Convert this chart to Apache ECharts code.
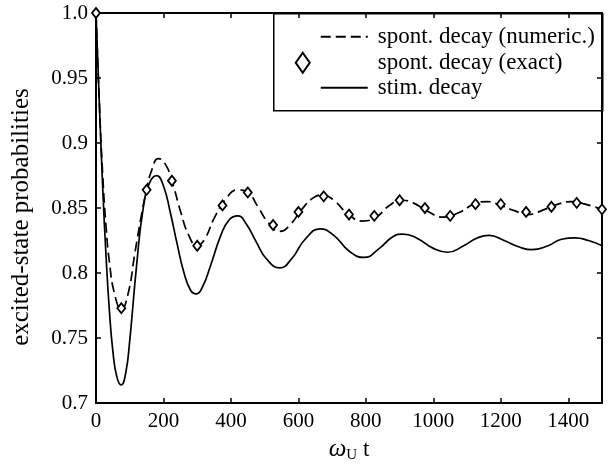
<!DOCTYPE html>
<html>
<head>
<meta charset="utf-8">
<script src="https://cdn.jsdelivr.net/npm/echarts@6/dist/echarts.min.js"></script>
<style>
html,body{margin:0;padding:0;background:#fff;}
#chart{width:611px;height:468px;}
</style>
</head>
<body>
<div id="chart"></div>
<script>
// ---- data ----
const seriesNames = ['spont. decay (numeric.)', 'spont. decay (exact)', 'stim. decay'];

// spontaneous decay, numerical solution (dashed): [omega_U t, probability]
const spontNumeric = [
  [0,1.0],[10,0.93],[20,0.875],[30,0.835],[40,0.808],[55,0.784],[75,0.772],[95,0.784],
  [115,0.815],[135,0.845],[150,0.864],[165,0.879],[185,0.888],[205,0.884],[225,0.871],
  [250,0.848],[275,0.829],[300,0.821],[322,0.826],[350,0.842],[385,0.857],[420,0.864],
  [450,0.862],[480,0.851],[510,0.839],[545,0.832],[575,0.837],[610,0.849],[645,0.858],
  [673,0.860],[705,0.856],[745,0.846],[790,0.840],[830,0.843],[870,0.852],[905,0.856],
  [940,0.854],[980,0.848],[1030,0.843],[1080,0.847],[1120,0.853],[1160,0.855],[1200,0.852],
  [1240,0.848],[1280,0.845],[1330,0.849],[1370,0.853],[1410,0.855],[1450,0.853],[1500,0.849]
];

// spontaneous decay, exact solution (diamonds)
const spontExactT = [0,75,150,225,300,375,450,525,600,675,750,825,900,975,1050,1125,1200,1275,1350,1425,1500];
const spontExactP = [1.0,0.773,0.864,0.871,0.821,0.852,0.862,0.837,0.847,0.859,0.845,0.844,0.856,0.850,0.844,0.853,0.853,0.847,0.851,0.854,0.849];

// stimulated decay (solid)
const stimDecay = [
  [0,1.0],[10,0.93],[20,0.865],[30,0.812],[40,0.77],[50,0.74],[62,0.72],[75,0.714],
  [88,0.723],[100,0.748],[120,0.805],[140,0.850],[160,0.870],[180,0.875],[200,0.867],
  [220,0.847],[240,0.823],[260,0.801],[280,0.787],[297,0.784],[315,0.789],[340,0.806],
  [370,0.829],[395,0.841],[420,0.844],[445,0.838],[475,0.824],[505,0.811],[545,0.804],
  [580,0.811],[620,0.826],[665,0.834],[705,0.829],[750,0.817],[795,0.812],[840,0.819],
  [880,0.828],[910,0.830],[950,0.827],[1000,0.819],[1042,0.816],[1090,0.821],[1130,0.827],
  [1165,0.829],[1210,0.825],[1255,0.820],[1292,0.818],[1340,0.821],[1380,0.826],[1420,0.827],
  [1460,0.825],[1500,0.821]
];

const xTicks = [0,200,400,600,800,1000,1200,1400];
const yTickLabels = {1:'1.0',0.95:'0.95',0.9:'0.9',0.85:'0.85',0.8:'0.8',0.75:'0.75',0.7:'0.7'};

// ---- chart ----
const FONT = 'Liberation Serif';
const chart = echarts.init(document.getElementById('chart'), null, {renderer:'canvas'});

const axisLineStyle = {color:'#000', width:2};
const tickCfg = {show:true, inside:true, length:5, lineStyle:{color:'#000', width:1.5}};

const exactData = spontExactT.map((t,i)=>[t, spontExactP[i]]);

const option = {
  backgroundColor:'#fff',
  animation:false,
  textStyle:{fontFamily:FONT},
  grid:{left:96, right:9, top:13, bottom:54, containLabel:false},
  xAxis:[{
    type:'value', min:0, max:1500, interval:200, position:'bottom',
    axisLine:{show:true, onZero:false, lineStyle:axisLineStyle},
    axisTick:tickCfg,
    splitLine:{show:false},
    axisLabel:{color:'#000', fontFamily:FONT, fontSize:21, margin:8, showMaxLabel:false,
      formatter:v => xTicks.indexOf(v) >= 0 ? String(v) : ''},
    name:'{w|ω}{s|U}{t| t}', nameLocation:'middle', nameGap:32,
    nameTextStyle:{rich:{
      w:{fontFamily:FONT, fontSize:25, fontStyle:'italic', color:'#000'},
      s:{fontFamily:FONT, fontSize:15, color:'#000', padding:[12,0,0,0]},
      t:{fontFamily:FONT, fontSize:23, color:'#000'}
    }}
  },{
    type:'value', min:0, max:1500, interval:200, position:'top',
    axisLine:{show:true, onZero:false, lineStyle:axisLineStyle},
    axisTick:tickCfg, axisLabel:{show:false}, splitLine:{show:false}
  }],
  yAxis:[{
    type:'value', min:0.7, max:1.0, interval:0.05, position:'left',
    axisLine:{show:true, onZero:false, lineStyle:axisLineStyle},
    axisTick:tickCfg,
    splitLine:{show:false},
    axisLabel:{color:'#000', fontFamily:FONT, fontSize:21, margin:8,
      formatter:v => { const k = Math.round(v*100)/100; return yTickLabels[k] !== undefined ? yTickLabels[k] : ''; }},
    name:'excited-state probabilities', nameLocation:'middle', nameRotate:90, nameGap:62,
    nameTextStyle:{fontFamily:FONT, fontSize:25, color:'#000', padding:[0,18,0,0]}
  },{
    type:'value', min:0.7, max:1.0, interval:0.05, position:'right',
    axisLine:{show:true, onZero:false, lineStyle:axisLineStyle},
    axisTick:tickCfg, axisLabel:{show:false}, splitLine:{show:false}
  }],
  series:[{
    name:seriesNames[0], type:'line', data:spontNumeric, smooth:0.5, showSymbol:false,
    lineStyle:{color:'#000', width:1.7, type:[10,5]}, z:3
  },{
    name:seriesNames[2], type:'line', data:stimDecay, smooth:0.5, showSymbol:false,
    lineStyle:{color:'#000', width:1.7}, z:3
  },{
    name:seriesNames[1], type:'scatter', data:exactData, symbol:'diamond', symbolSize:[8,10],
    itemStyle:{color:'#fff', opacity:1, borderColor:'#000', borderWidth:1.8}, z:5
  }],
  graphic:[{
    type:'group', left:273, top:13, z:100,
    children:[
      {type:'rect', shape:{x:0,y:0,width:329,height:97}, style:{fill:'#fff', stroke:'#000', lineWidth:1.5}},
      {type:'line', shape:{x1:47,y1:23,x2:94,y2:23}, style:{stroke:'#000', lineWidth:1.8, lineDash:[10,5]}},
      {type:'polygon', shape:{points:[[29,39],[36,49],[29,59],[22,49]]}, style:{fill:'#fff', stroke:'#000', lineWidth:2}},
      {type:'line', shape:{x1:47,y1:74,x2:94,y2:74}, style:{stroke:'#000', lineWidth:1.8}},
      {type:'text', x:104, y:23, style:{text:seriesNames[0], font:'23px Liberation Serif', fill:'#000', verticalAlign:'middle'}},
      {type:'text', x:104, y:49, style:{text:seriesNames[1], font:'23px Liberation Serif', fill:'#000', verticalAlign:'middle'}},
      {type:'text', x:104, y:74, style:{text:seriesNames[2], font:'23px Liberation Serif', fill:'#000', verticalAlign:'middle'}}
    ]
  }]
};
chart.setOption(option);
</script>
</body>
</html>
